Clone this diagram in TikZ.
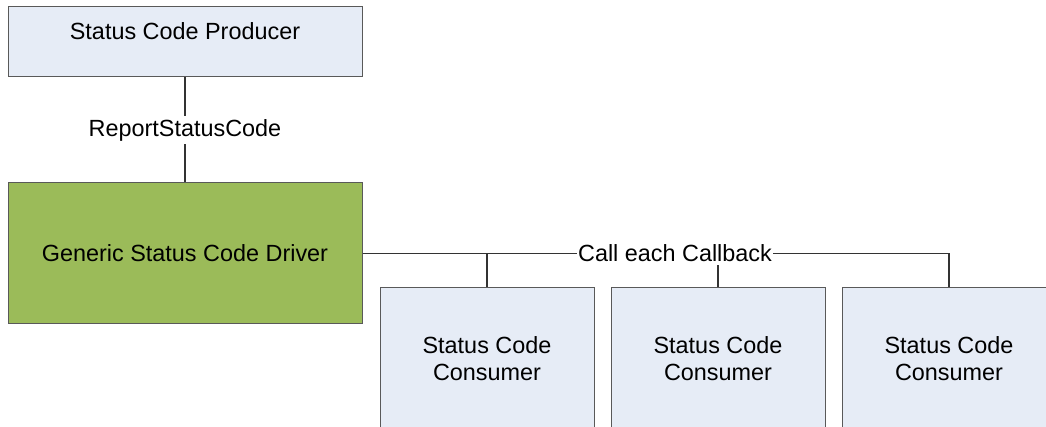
\documentclass[tikz,border=0pt]{standalone}
\usepackage{fontspec}
\setmainfont{Liberation Sans}
\usepackage{tikz}
\definecolor{cajaazul}{HTML}{E6ECF6}
\definecolor{cajaverde}{HTML}{9BBB59}
\definecolor{borde}{HTML}{595959}
\tikzstyle{caja}=[rectangle, draw=borde, line width=1pt, inner sep=0pt, align=center, font=\fontsize{23.4}{27}\selectfont]
\tikzstyle{etiqueta}=[fill=white, inner xsep=1.5pt, inner ysep=3pt, font=\fontsize{23.4}{27}\selectfont]
\tikzstyle{conector}=[draw=black!80, line width=1.3pt]

\begin{document}
\begin{tikzpicture}[x=1pt, y=-1pt]
            \useasboundingbox (0,0) rectangle (1046,427);
            \clip (0,0) rectangle (1046,427);
            % cajas
            \node[caja, fill=cajaazul, minimum width=354pt, text height=32.3pt, text depth=37.7pt] (prod) at (185,42) {Status Code Producer};
            \node[caja, fill=cajaverde, draw=black!65, minimum width=354pt, minimum height=141pt] (drv) at (185,253.5) {Generic Status Code Driver};

            \node[caja, fill=cajaazul, minimum width=214pt, minimum height=141pt] (c1) at (487,358.5) {Status Code\\Consumer};
            \node[caja, fill=cajaazul, minimum width=214pt, minimum height=141pt] (c2) at (718,358.5) {Status Code\\Consumer};
            \node[caja, fill=cajaazul, minimum width=214pt, minimum height=141pt] (c3) at (949,358.5) {Status Code\\Consumer};

            % conexiones
            \draw[conector] (prod) -- (drv);
            \node[etiqueta] (report) at (185,130) {ReportStatusCode};

            \draw[conector] (drv.east) -- (c3.north |- drv.east) -- (c3.north);
            \draw[conector] (c1.north |- drv.east) -- (c1.north);
            \draw[conector] (c2.north |- drv.east) -- (c2.north);
            \node[etiqueta] (llamada) at (675,253.5) {Call each Callback};
        \end{tikzpicture}
\end{document}
